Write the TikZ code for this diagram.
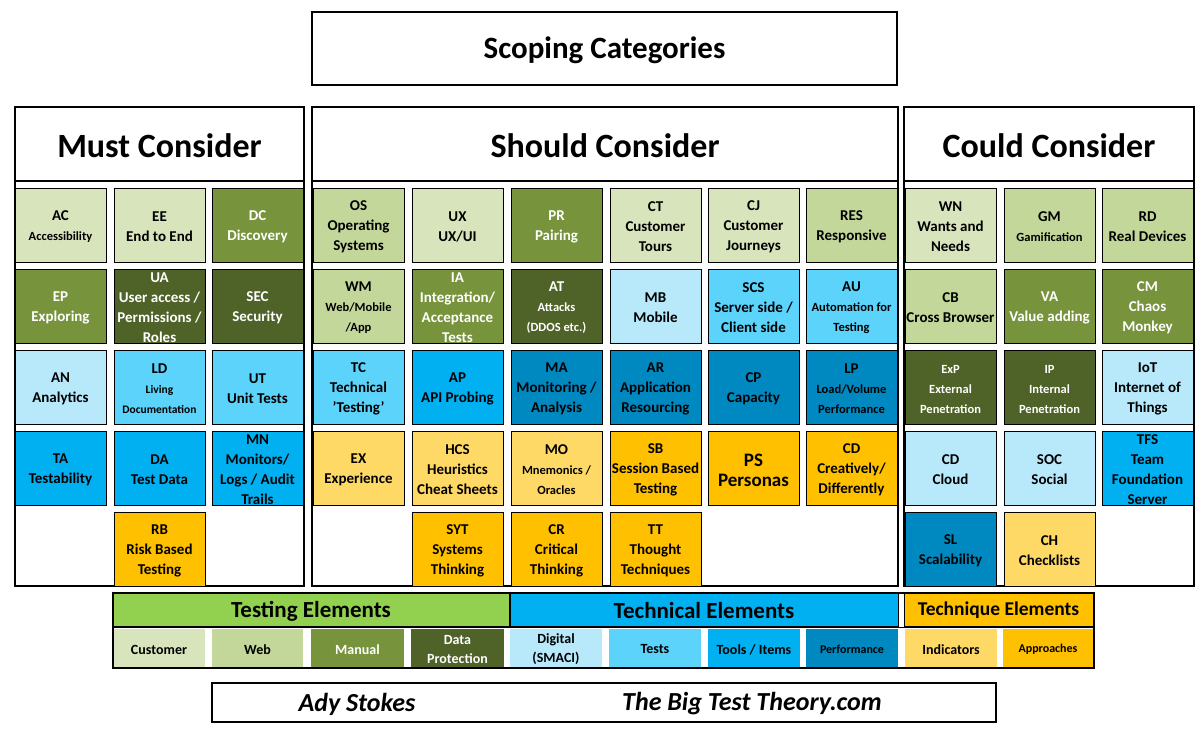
\documentclass[tikz,border=0pt]{standalone}
\usepackage{fontspec}
\setmainfont{Carlito}
\usetikzlibrary{calc}
\definecolor{colga}{HTML}{D8E4BC}
\definecolor{colgb}{HTML}{C4D79B}
\definecolor{colgc}{HTML}{77933C}
\definecolor{colgd}{HTML}{4F6228}
\definecolor{colba}{HTML}{B7E9FB}
\definecolor{colbb}{HTML}{5BD3FB}
\definecolor{colbc}{HTML}{00B0F0}
\definecolor{colbd}{HTML}{0088C0}
\definecolor{coloa}{HTML}{FFD966}
\definecolor{colob}{HTML}{FFC000}
\definecolor{collg}{HTML}{92D050}
\newcommand\smf{\fontsize{12.5}{18}\selectfont}
\newcommand\tnf{\fontsize{11.5}{15}\selectfont}
\newcommand\bgf{\fontsize{19}{25}\selectfont}
\tikzset{
 frame/.style={draw=black,line width=1.8pt,fill=white},
 cellfill/.style={draw=black,line width=0.9pt},
 celltext/.style={align=center,font=\bfseries\fontsize{15}{20}\selectfont,inner sep=0pt},
 wt/.style={text=white},
 hdr/.style={font=\bfseries\fontsize{34}{36}\selectfont,inner sep=0pt},
 leg/.style={align=center,font=\bfseries\fontsize{14}{19}\selectfont,inner sep=0pt}
}
\newcommand\cellbox[5]{%
 \fill[#4] (#2,#3) rectangle ++(91,74);
 \draw[cellfill] (#2,#3) rectangle ++(91,74);
 \node[celltext] (#1) at ($(#2,#3)+(45.5,39)$) {#5};}
\newcommand\wcell[5]{%
 \fill[#4] (#2,#3) rectangle ++(91,74);
 \draw[cellfill] (#2,#3) rectangle ++(91,74);
 \node[celltext,wt] (#1) at ($(#2,#3)+(45.5,39)$) {#5};}
\newcommand\lcell[6]{\fill[#4] (#2,629) rectangle (#3,668); \node[leg,#5] (#1) at ({(#2+#3)/2},649.5) {#6};}
\begin{document}
\begin{tikzpicture}[x=1pt,y=-1pt]
\useasboundingbox (0,0) rectangle (1204,734);
\draw[frame] (312,12) rectangle (897,85);
\node[hdr,font=\bfseries\fontsize{31}{34}\selectfont] (title) at (604.5,50) {Scoping Categories};
\draw[frame] (15,107) rectangle (304,586);
\draw[frame] (312,107) rectangle (898,586);
\draw[frame] (904,107) rectangle (1194,586);
\draw[line width=1.2pt] (15,181) -- (304,181) (312,181) -- (898,181) (904,181) -- (1194,181);
\node[hdr] (must) at (159.5,146) {Must Consider};
\node[hdr] (should) at (605,146) {Should Consider};
\node[hdr] (could) at (1049,146) {Could Consider};
% Must
\cellbox{AC}{15}{188}{colga}{AC\\\smf Accessibility}
\cellbox{EE}{114}{188}{colga}{EE\\End to End}
\wcell{DC}{212}{188}{colgc}{DC\\Discovery}
\wcell{EP}{15}{269}{colgc}{EP\\Exploring}
\wcell{UA}{114}{269}{colgd}{UA\\User access /\\Permissions /\\Roles}
\wcell{SEC}{212}{269}{colgd}{SEC\\Security}
\cellbox{AN}{15}{350}{colba}{AN\\Analytics}
\cellbox{LD}{114}{350}{colbb}{LD\\\tnf Living\\\tnf Documentation}
\cellbox{UT}{212}{350}{colbb}{UT\\Unit Tests}
\cellbox{TA}{15}{431}{colbc}{TA\\Testability}
\cellbox{DA}{114}{431}{colbc}{DA\\Test Data}
\cellbox{MN}{212}{431}{colbc}{MN\\Monitors/\\Logs / Audit\\Trails}
\cellbox{RB}{114}{512}{colob}{RB\\Risk Based\\Testing}
% Should
\cellbox{OS}{313}{188}{colgb}{OS\\Operating\\Systems}
\cellbox{UX}{412}{188}{colga}{UX\\UX/UI}
\wcell{PR}{511}{188}{colgc}{PR\\Pairing}
\cellbox{CT}{610}{188}{colga}{CT\\Customer\\Tours}
\cellbox{CJ}{708}{188}{colga}{CJ\\Customer\\Journeys}
\cellbox{RES}{806}{188}{colgb}{RES\\Responsive}
\cellbox{WM}{313}{269}{colgb}{WM\\\smf Web/Mobile\\\smf /App}
\wcell{IA}{412}{269}{colgc}{IA\\Integration/\\Acceptance\\Tests}
\wcell{AT}{511}{269}{colgd}{AT\\\smf Attacks\\\smf (DDOS etc.)}
\cellbox{MB}{610}{269}{colba}{MB\\Mobile}
\cellbox{SCS}{708}{269}{colbb}{SCS\\Server side /\\Client side}
\cellbox{AU}{806}{269}{colbb}{AU\\\smf Automation for\\\smf Testing}
\cellbox{TC}{313}{350}{colbb}{TC\\Technical\\{\char39}Testing{\char39}}
\cellbox{AP}{412}{350}{colbc}{AP\\API Probing}
\cellbox{MA}{511}{350}{colbd}{MA\\Monitoring /\\Analysis}
\cellbox{AR}{610}{350}{colbd}{AR\\Application\\Resourcing}
\cellbox{CP}{708}{350}{colbd}{CP\\Capacity}
\cellbox{LP}{806}{350}{colbd}{LP\\\smf Load/Volume\\\smf Performance}
\cellbox{EX}{313}{431}{coloa}{EX\\Experience}
\cellbox{HCS}{412}{431}{coloa}{HCS\\Heuristics\\Cheat Sheets}
\cellbox{MO}{511}{431}{coloa}{MO\\\smf Mnemonics /\\\smf Oracles}
\cellbox{SB}{610}{431}{colob}{SB\\Session Based\\Testing}
\cellbox{PS}{708}{431}{colob}{\bgf PS\\\bgf Personas}
\cellbox{CDs}{806}{431}{colob}{CD\\Creatively/\\Differently}
\cellbox{SYT}{412}{512}{colob}{SYT\\Systems\\Thinking}
\cellbox{CR}{511}{512}{colob}{CR\\Critical\\Thinking}
\cellbox{TT}{610}{512}{colob}{TT\\Thought\\Techniques}
% Could
\cellbox{WN}{905}{188}{colga}{WN\\Wants and\\Needs}
\cellbox{GM}{1004}{188}{colgb}{GM\\\smf Gamification}
\cellbox{RD}{1102}{188}{colgb}{RD\\Real Devices}
\cellbox{CB}{905}{269}{colgb}{CB\\Cross Browser}
\wcell{VA}{1004}{269}{colgc}{VA\\Value adding}
\wcell{CM}{1102}{269}{colgc}{CM\\Chaos\\Monkey}
\wcell{ExP}{905}{350}{colgd}{\smf ExP\\\smf External\\\smf Penetration}
\wcell{IP}{1004}{350}{colgd}{\smf IP\\\smf Internal\\\smf Penetration}
\cellbox{IoT}{1102}{350}{colba}{IoT\\Internet of\\Things}
\cellbox{CDc}{905}{431}{colba}{CD\\Cloud}
\cellbox{SOC}{1004}{431}{colba}{SOC\\Social}
\cellbox{TFS}{1102}{431}{colbc}{TFS\\Team\\Foundation\\Server}
\cellbox{SL}{905}{512}{colbd}{SL\\Scalability}
\cellbox{CH}{1004}{512}{coloa}{CH\\Checklists}
% legend
\fill[white] (113,593) rectangle (1094,668);
\fill[collg] (113,593) rectangle (509,626);
\fill[colbc] (510,593) rectangle (898,626);
\fill[colob] (904,593) rectangle (1093,626);
\draw[line width=0.8pt] (113,593) rectangle (509,626) (510,593) rectangle (898,626) (904,593) rectangle (1093,626);
\node[hdr,font=\bfseries\fontsize{23}{26}\selectfont] (lt) at (311,611) {Testing Elements};
\node[hdr,font=\bfseries\fontsize{23}{26}\selectfont] (lte) at (704,611) {Technical Elements};
\node[hdr,font=\bfseries\fontsize{19.5}{24}\selectfont] (ltq) at (998.5,610) {Technique Elements};
\lcell{lCu}{113}{205}{colga}{}{Customer}
\lcell{lWe}{212}{303}{colgb}{}{Web}
\lcell{lMa}{311}{404}{colgc}{text=white}{Manual}
\lcell{lDP}{411}{504}{colgd}{text=white}{Data\\Protection}
\lcell{lDi}{510}{602}{colba}{}{Digital\\(SMACI)}
\lcell{lTe}{609}{701}{colbb}{}{Tests}
\lcell{lTo}{708}{800}{colbc}{}{Tools / Items}
\lcell{lPe}{806}{898}{colbd}{font=\bfseries\fontsize{12}{17}\selectfont}{Performance}
\lcell{lIn}{905}{997}{coloa}{}{Indicators}
\lcell{lAp}{1003}{1093}{colob}{font=\bfseries\fontsize{12}{17}\selectfont}{Approaches}
\draw[line width=1.8pt] (113,593) rectangle (1094,668);
\draw[line width=1.2pt] (113,627.5) -- (1094,627.5);
% footer
\draw[frame] (212,683) rectangle (996,722);
\node[font=\bfseries\itshape\fontsize{26}{28}\selectfont] (ady) at (357,704) {Ady Stokes};
\node[font=\bfseries\itshape\fontsize{26}{28}\selectfont] (bt) at (752,704) {The Big Test Theory.com};
\end{tikzpicture}
\end{document}
